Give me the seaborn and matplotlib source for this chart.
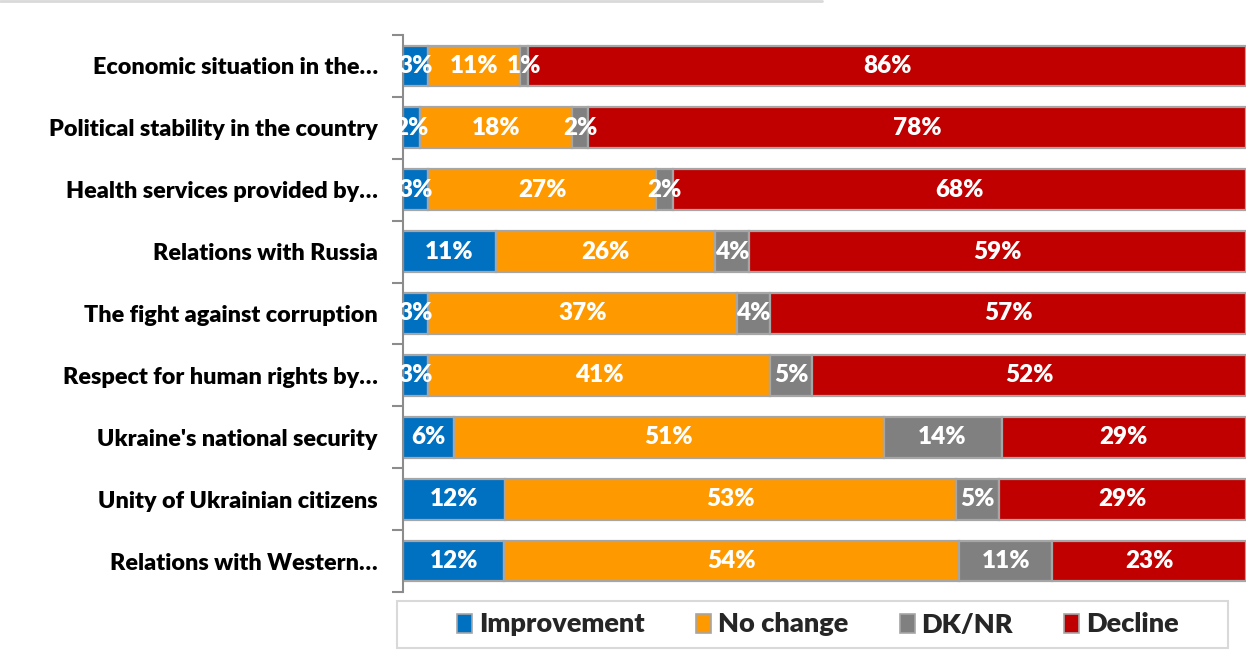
import numpy as np
import pandas as pd
import matplotlib
matplotlib.use("Agg")
import matplotlib.pyplot as plt
import seaborn as sns
from matplotlib.patches import Rectangle
from matplotlib.lines import Line2D

categories = [
    "Economic situation in the…",
    "Political stability in the country",
    "Health services provided by…",
    "Relations with Russia",
    "The fight against corruption",
    "Respect for human rights by…",
    "Ukraine's national security",
    "Unity of Ukrainian citizens",
    "Relations with Western…",
]
improvement = [3, 2, 3, 11, 3, 3, 6, 12, 12]
no_change = [11, 18, 27, 26, 37, 41, 51, 53, 54]
dk_nr = [1, 2, 2, 4, 4, 5, 14, 5, 11]
decline = [86, 78, 68, 59, 57, 52, 29, 29, 23]

series_names = ["Improvement", "No change", "DK/NR", "Decline"]
series_vals = [improvement, no_change, dk_nr, decline]
colors = ["#0070C0", "#FF9900", "#808080", "#C00000"]

sns.set_theme(style="white")
plt.rcParams["font.family"] = ["Lato", "DejaVu Sans"]
W = "heavy"

fig = plt.figure(figsize=(12.6, 6.57), dpi=100)
ax = fig.add_axes([403 / 1260, 1 - 592 / 657, (1246 - 403) / 1260, (592 - 35) / 657])

vals = np.array(series_vals, dtype=float)
totals = vals.sum(axis=0)
shares = vals / totals * 100.0
lefts = np.zeros(len(categories))

for name, share, raw, col in zip(series_names, shares, series_vals, colors):
    df = pd.DataFrame({"cat": categories, "val": share})
    sns.barplot(data=df, x="val", y="cat", order=categories, orient="y",
                color=col, saturation=1, width=0.66, errorbar=None,
                left=lefts, edgecolor="#A6A6A6", linewidth=1.6, ax=ax)
    cont = ax.containers[-1]
    ax.bar_label(cont, labels=[f"{v}%" for v in raw], label_type="center",
                 color="white", fontsize=17.5, fontweight=W)
    lefts = lefts + share

ax.set_xlim(0, 100)
ax.set_ylim(len(categories) - 0.5, -0.5)
ax.set_xlabel("")
ax.set_ylabel("")
ax.set_xticks([])
for s in ["top", "right", "bottom"]:
    ax.spines[s].set_visible(False)
ax.spines["left"].set_color("#8C8C8C")
ax.spines["left"].set_linewidth(1.5)
ax.set_yticks(np.arange(-0.5, len(categories), 1), minor=True)
ax.tick_params(axis="y", which="major", length=0, pad=18, labelsize=16.8)
ax.tick_params(axis="y", which="minor", length=8, width=1.5, color="#8C8C8C", left=True)
for lbl in ax.get_yticklabels():
    lbl.set_fontweight(W)
    lbl.set_color("black")

# legend box
fig.add_artist(Rectangle((397 / 1260, 1 - 648 / 657), (1228 - 397) / 1260, (648 - 601) / 657,
                         transform=fig.transFigure, facecolor="white",
                         edgecolor="#D9D9D9", linewidth=1.5))
handles = [Rectangle((0, 0), 1, 1, facecolor=c, edgecolor="#A6A6A6", linewidth=1.2) for c in colors]
fig.legend(handles, series_names, loc="center", bbox_to_anchor=(818 / 1260, 1 - 624.5 / 657),
           ncol=4, frameon=False, prop={"weight": W, "size": 19.5},
           handlelength=0.55, handleheight=0.7, handletextpad=0.25, columnspacing=1.9)

fig.add_artist(Line2D([0, 822 / 1260], [1 - 1 / 657, 1 - 1 / 657], transform=fig.transFigure,
                      color="#D9D9D9", linewidth=2))

fig.savefig("out.png", dpi=100)
